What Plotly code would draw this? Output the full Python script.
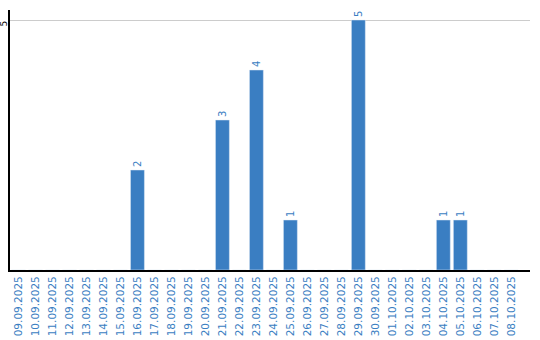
import plotly.graph_objects as go

dates = ["09.09.2025","10.09.2025","11.09.2025","12.09.2025","13.09.2025","14.09.2025",
         "15.09.2025","16.09.2025","17.09.2025","18.09.2025","19.09.2025","20.09.2025",
         "21.09.2025","22.09.2025","23.09.2025","24.09.2025","25.09.2025","26.09.2025",
         "27.09.2025","28.09.2025","29.09.2025","30.09.2025","01.10.2025","02.10.2025",
         "03.10.2025","04.10.2025","05.10.2025","06.10.2025","07.10.2025","08.10.2025"]
values = [0,0,0,0,0,0,0,2,0,0,0,0,3,0,4,0,1,0,0,0,5,0,0,0,0,1,1,0,0,0]

labels = [str(v) if v else "" for v in values]
blue = "#3a7ec2"

fig = go.Figure(go.Bar(
    x=list(range(len(dates))), y=values, marker_color=blue, width=0.82,
    text=labels, textposition="outside", textangle=-90,
    textfont=dict(color=blue, size=10, family="DejaVu Sans"),
    cliponaxis=False,
))
fig.update_layout(
    width=540, height=340, margin=dict(l=10, r=10, t=10, b=70),
    plot_bgcolor="white", paper_bgcolor="white", showlegend=False,
    font=dict(family="DejaVu Sans", size=10),
)
fig.update_xaxes(
    tickmode="array", tickvals=list(range(len(dates))), ticktext=dates,
    tickangle=-90, tickfont=dict(color=blue, size=10.5, family="DejaVu Sans"),
    range=[-0.5, 30.1], showline=True, linecolor="black", linewidth=2,
    showgrid=False, ticks="", zeroline=False, automargin=False,
)
fig.update_yaxes(
    range=[0, 5.2], tickvals=[5], ticktext=["5"], tickangle=-90,
    tickfont=dict(color="black", size=9, family="DejaVu Sans"),
    showline=True, linecolor="black", linewidth=2,
    showgrid=True, gridcolor="#cccccc", gridwidth=1, zeroline=False, ticks="",
    ticklabelstandoff=-3, ticklabelshift=5, automargin=False,
)
fig.write_html("out.html")
